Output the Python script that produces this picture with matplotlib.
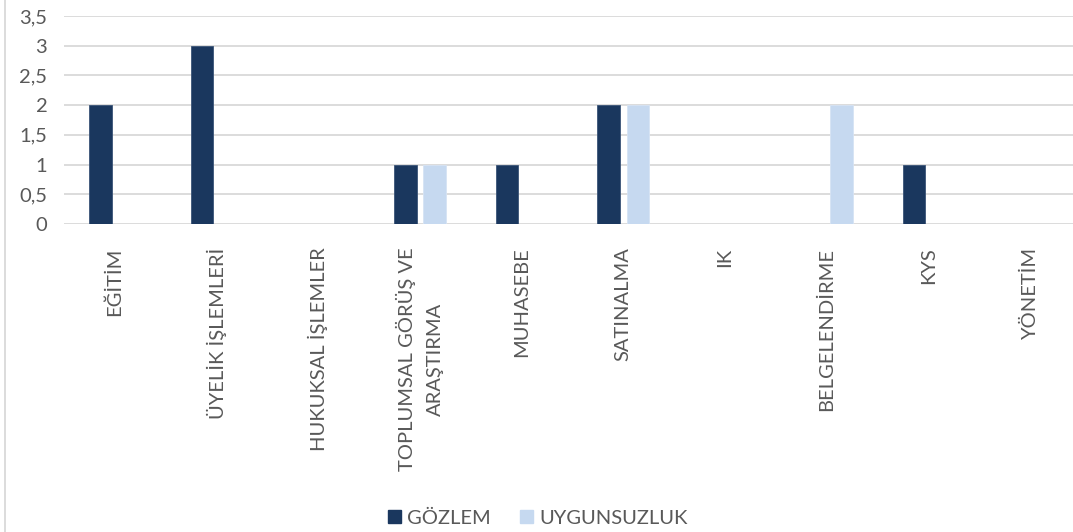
import matplotlib
matplotlib.use("Agg")
import matplotlib.pyplot as plt
from matplotlib.patches import Patch
from matplotlib.lines import Line2D
from matplotlib.ticker import FuncFormatter
import numpy as np

categories = ["EĞİTİM", "ÜYELİK İŞLEMLERİ", "HUKUKSAL İŞLEMLER",
              "TOPLUMSAL GÖRÜŞ VE\nARAŞTIRMA", "MUHASEBE", "SATINALMA", "IK",
              "BELGELENDİRME", "KYS", "YÖNETİM"]
gozlem = [2, 3, 0, 1, 1, 2, 0, 0, 1, 0]
uygunsuzluk = [0, 0, 0, 1, 0, 2, 0, 2, 0, 0]
series_names = ["GÖZLEM", "UYGUNSUZLUK"]
yticks = [0, 0.5, 1, 1.5, 2, 2.5, 3, 3.5]

DARK = "#1A375E"
LIGHT = "#C6D9F0"
TXT = "#595959"
GRID = "#D9D9D9"

plt.rcParams['font.family'] = ['Lato', 'DejaVu Sans']

W, H = 1073, 532
fig = plt.figure(figsize=(W / 100, H / 100), dpi=100)
ax_left, ax_right = 64, 1081
ax_top, ax_bot = 16, 224
ax = fig.add_axes([ax_left / W, 1 - ax_bot / H, (ax_right - ax_left) / W, (ax_bot - ax_top) / H])

x = np.arange(len(categories))
bw = 0.223
off = 0.143
for xi, v in zip(x, gozlem):
    if v:
        ax.bar(xi - off, v, width=bw, color=DARK, edgecolor="#3A5478", linewidth=0.6, zorder=3)
for xi, v in zip(x, uygunsuzluk):
    if v:
        ax.bar(xi + off, v, width=bw, color=LIGHT, edgecolor="#D6E3F4", linewidth=0.6, zorder=3)

ax.set_xlim(-0.5, len(categories) - 0.5)
ax.set_ylim(0, 3.5)
ax.set_yticks(yticks)
ax.yaxis.set_major_formatter(FuncFormatter(lambda v, p: ("%g" % v).replace(".", ",")))
ax.grid(axis="y", color=GRID, linewidth=1.3, zorder=0)
ax.set_axisbelow(True)
for s in ax.spines.values():
    s.set_visible(False)
ax.tick_params(axis="y", length=0, pad=12, labelsize=14.5, labelcolor=TXT)
ax.set_xticks(x)
ax.set_xticklabels(categories, rotation=90, ha="center", va="top",
                   multialignment="center", fontsize=14.5, color=TXT, linespacing=1.8)
ax.tick_params(axis="x", length=0, pad=17)

# chart-area border on left
fig.add_artist(Line2D([4.5 / W, 4.5 / W], [0, 1], color=GRID, linewidth=1.3))

handles = [Patch(facecolor=DARK, edgecolor=DARK), Patch(facecolor=LIGHT, edgecolor=LIGHT)]
fig.legend(handles, series_names, loc="center", bbox_to_anchor=(538 / W, 1 - 518 / H),
           ncol=2, frameon=False, fontsize=14.5, labelcolor=TXT,
           handlelength=0.65, handleheight=0.65, handletextpad=0.3, columnspacing=1.45)

fig.savefig("out.png", dpi=100)
